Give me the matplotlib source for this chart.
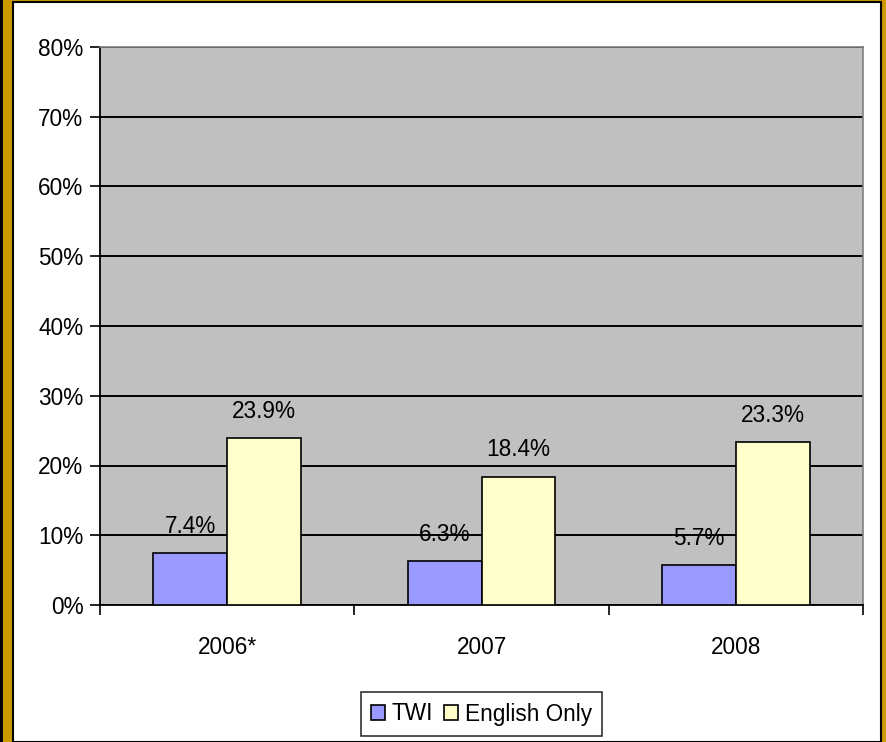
import matplotlib
matplotlib.use("Agg")
import matplotlib.pyplot as plt
from matplotlib.patches import Rectangle
import numpy as np

plt.rcParams['font.family'] = ['Liberation Sans', 'DejaVu Sans']

categories = ["2006*", "2007", "2008"]
twi = [7.4, 6.3, 5.7]
english_only = [23.9, 18.4, 23.3]
y_ticks = [0, 10, 20, 30, 40, 50, 60, 70, 80]
series_names = ["TWI", "English Only"]

W, H = 886, 742
FS = 16.3
fig = plt.figure(figsize=(W / 100, H / 100), dpi=100)

# outer frame: black edge, gold strip, white panel
fig.patches.append(Rectangle((0, 0), 1, 1, transform=fig.transFigure,
                             facecolor="#CC9900", edgecolor="none", zorder=-3))
fig.patches.append(Rectangle((0, 0), 3 / W, 1, transform=fig.transFigure,
                             facecolor="black", edgecolor="none", zorder=-2))
fig.patches.append(Rectangle((13 / W, 0), (881 - 13) / W, (H - 1.5) / H,
                             transform=fig.transFigure, facecolor="white",
                             edgecolor="black", linewidth=1.5, zorder=-1))

ax = fig.add_axes([100 / W, 1 - 605 / H, (863 - 100) / W, (605 - 47) / H])
ax.set_facecolor("#C0C0C0")

x = np.arange(len(categories))
bw = 0.29
b1 = ax.bar(x - bw / 2, twi, bw, color="#9999FF", edgecolor="black", linewidth=1.2,
            label=series_names[0], zorder=3)
b2 = ax.bar(x + bw / 2, english_only, bw, color="#FFFFCC", edgecolor="black", linewidth=1.2,
            label=series_names[1], zorder=3)

for bars, vals in ((b1, twi), (b2, english_only)):
    for rect, v in zip(bars, vals):
        ax.text(rect.get_x() + rect.get_width() / 2, v + 2.2, f"{v:.1f}%",
                ha="center", va="bottom", fontsize=FS, zorder=4)

ax.set_ylim(0, 80)
ax.set_xlim(-0.5, len(categories) - 0.5)
ax.set_yticks(y_ticks)
ax.set_yticklabels([f"{t}%" for t in y_ticks], fontsize=FS)
ax.yaxis.grid(True, color="black", linewidth=1.4, zorder=1)
ax.set_axisbelow(True)

ax.set_xticks(x)
ax.set_xticklabels(categories, fontsize=FS)
ax.tick_params(axis="x", length=0, pad=22)
ax.set_xticks(np.arange(-0.5, len(categories)), minor=True)
ax.tick_params(axis="x", which="minor", length=7, width=1.2, direction="out")
ax.tick_params(axis="y", length=7, width=1.2, direction="out", pad=5)

for side in ("top", "right"):
    ax.spines[side].set_color("#808080")
    ax.spines[side].set_linewidth(1.2)
ax.spines["left"].set_linewidth(1.3)
ax.spines["bottom"].set_linewidth(1.3)

leg = fig.legend(handles=[b1, b2], labels=series_names, loc="center",
                 bbox_to_anchor=(481.5 / W, 1 - 714 / H), ncol=2, fontsize=FS,
                 frameon=True, fancybox=False, edgecolor="black",
                 handlelength=0.6, handleheight=0.6, handletextpad=0.3,
                 columnspacing=0.5, borderpad=0.45)
leg.get_frame().set_linewidth(1.2)

fig.savefig("out.png", dpi=100)
